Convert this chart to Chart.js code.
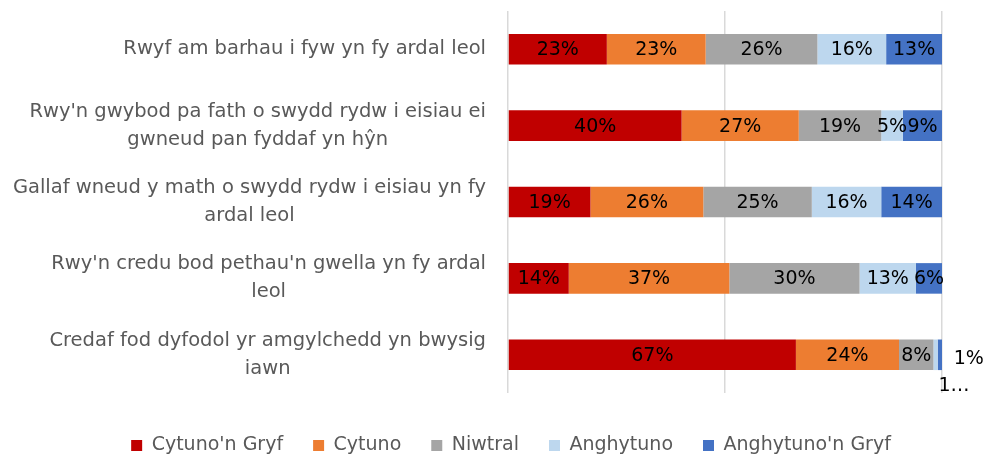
<!DOCTYPE html>
<html>
<head>
<meta charset="utf-8">
<script src="https://cdn.jsdelivr.net/npm/chart.js@4/dist/chart.umd.min.js"></script>
<style>
  html, body { margin: 0; padding: 0; background: #fff; height: 455px; overflow: hidden; }
  #wrap { width: 985px; height: 465px; position: relative; }
</style>
</head>
<body>
<div id="wrap"><canvas id="c"></canvas></div>
<script>
// Survey statements (each entry is the wrapped lines of one label)
const statements = [
  ["Rwyf am barhau i fyw yn fy ardal leol"],
  ["Rwy'n gwybod pa fath o swydd rydw i eisiau ei", "gwneud pan fyddaf yn hŷn"],
  ["Gallaf wneud y math o swydd rydw i eisiau yn fy", "ardal leol"],
  ["Rwy'n credu bod pethau'n gwella yn fy ardal", "leol"],
  ["Credaf fod dyfodol yr amgylchedd yn bwysig", "iawn"]
];

const seriesNames = ["Cytuno'n Gryf", "Cytuno", "Niwtral", "Anghytuno", "Anghytuno'n Gryf"];

// Percentages of responses per statement
const cytunoGryf    = [23, 40, 19, 14, 67];
const cytuno        = [23, 27, 26, 37, 24];
const niwtral       = [26, 19, 25, 30, 8];
const anghytuno     = [16, 5, 16, 13, 1];
const anghytunoGryf = [13, 9, 14, 6, 1];

const axisTicks = [0, 50, 100];

const seriesValues = [cytunoGryf, cytuno, niwtral, anghytuno, anghytunoGryf];
const seriesColors = ["#C00000", "#ED7D31", "#A5A5A5", "#BDD7EE", "#4472C4"];

// Each bar is a 100% stack, so shares are taken against the row total
const rowTotals = statements.map((_, i) => seriesValues.reduce((s, arr) => s + arr[i], 0));

const FONT = '"DejaVu Sans", "Liberation Sans", sans-serif';
const CATEGORY_SIZE = 19.5;
const VALUE_SIZE = 19;
const LEGEND_SIZE = 19;

// Small segments on the last bar get their labels moved outside the bar
const movedLabels = [
  { series: 3, row: 4, dx: 31, dy: 3, text: "1%" },
  { series: 4, row: 4, dx: 12, dy: 30, text: "1\u2026" }
];

const valueLabels = {
  id: 'valueLabels',
  afterDatasetsDraw(chart) {
    const ctx = chart.ctx;
    ctx.save();
    ctx.font = VALUE_SIZE + 'px ' + FONT;
    ctx.fillStyle = '#000000';
    ctx.textAlign = 'center';
    ctx.textBaseline = 'middle';
    chart.data.datasets.forEach((ds, di) => {
      const meta = chart.getDatasetMeta(di);
      meta.data.forEach((bar, i) => {
        let x = (bar.x + bar.base) / 2;
        let y = bar.y;
        let text = ds.pct[i] + '%';
        const moved = movedLabels.find(m => m.series === di && m.row === i);
        if (moved) {
          x = bar.x + moved.dx;
          y = bar.y + moved.dy;
          text = moved.text;
        }
        ctx.fillText(text, x, y + 1);
      });
    });
    ctx.restore();
  }
};

// Category labels: block right-aligned to the axis, lines centred within the block
const categoryLabels = {
  id: 'categoryLabels',
  afterDraw(chart) {
    const ctx = chart.ctx;
    const yScale = chart.scales.y;
    const right = chart.chartArea.left - 22;
    const lineH = 28;
    ctx.save();
    ctx.font = CATEGORY_SIZE + 'px ' + FONT;
    ctx.fillStyle = '#595959';
    ctx.textAlign = 'center';
    ctx.textBaseline = 'middle';
    statements.forEach((lines, i) => {
      const cy = yScale.getPixelForTick(i);
      const w = Math.max(...lines.map(l => ctx.measureText(l).width));
      const cx = right - w / 2;
      const y0 = cy - (lines.length - 1) * lineH / 2;
      lines.forEach((l, k) => ctx.fillText(l, cx, y0 + k * lineH));
    });
    ctx.restore();
  }
};

new Chart(document.getElementById('c'), {
  type: 'bar',
  data: {
    labels: statements.map(l => l.join(' ')),
    datasets: seriesNames.map((name, si) => ({
      label: name,
      data: seriesValues[si].map((v, i) => v / rowTotals[i] * 100),
      pct: seriesValues[si],
      backgroundColor: seriesColors[si],
      borderWidth: 0,
      categoryPercentage: 1,
      barPercentage: 0.4
    }))
  },
  options: {
    indexAxis: 'y',
    responsive: true,
    maintainAspectRatio: false,
    animation: false,
    layout: { padding: { left: 80, right: 43, top: 11, bottom: 0 } },
    scales: {
      x: {
        stacked: true,
        min: axisTicks[0],
        max: axisTicks[axisTicks.length - 1],
        afterBuildTicks: s => { s.ticks = axisTicks.map(v => ({ value: v })); },
        ticks: { display: false },
        grid: { color: '#D9D9D9', lineWidth: 1.5, drawTicks: false },
        border: { display: false },
        afterFit: s => { s.height = 13; }
      },
      y: {
        stacked: true,
        ticks: { display: false },
        grid: { display: false, drawTicks: false },
        border: { display: false },
        afterFit: s => { s.width = 428; }
      }
    },
    plugins: {
      legend: {
        position: 'bottom',
        labels: {
          boxWidth: 11,
          boxHeight: 11,
          padding: 30,
          color: '#595959',
          font: { family: FONT, size: LEGEND_SIZE }
        }
      },
      tooltip: { enabled: false }
    }
  },
  plugins: [valueLabels, categoryLabels]
});
</script>
</body>
</html>
